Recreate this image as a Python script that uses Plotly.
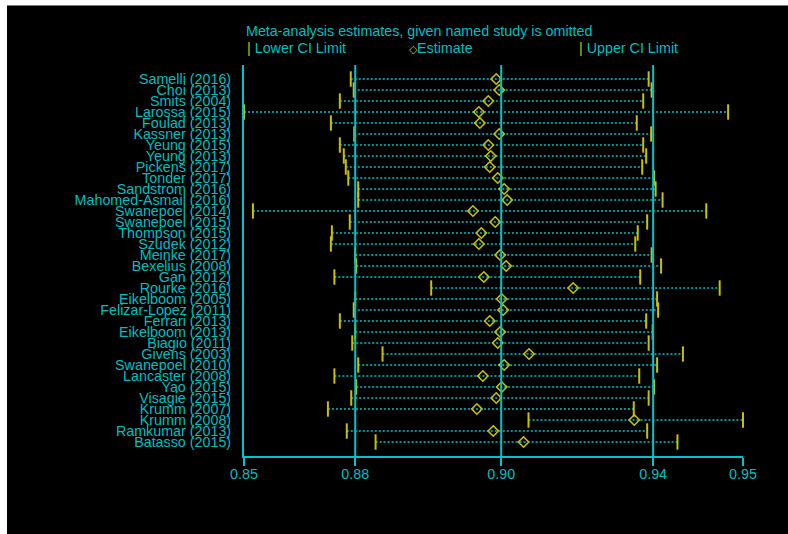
import plotly.graph_objects as go

# Leave-one-out meta-analysis: pooled estimate and CI when each study is omitted
studies = [
    "Samelli (2016)", "Choi (2013)", "Smits (2004)", "Larossa (2015)", "Foulad (2013)",
    "Kassner (2013)", "Yeung (2015)", "Yeung (2013)", "Pickens (2017)", "Tonder (2017)",
    "Sandstrom (2016)", "Mahomed-Asmail (2016)", "Swanepoel (2014)", "Swanepoel (2015)",
    "Thompson (2015)", "Szudek (2012)", "Meinke (2017)", "Bexelius (2008)", "Gan (2012)",
    "Rourke (2016)", "Eikelboom (2005)", "Felizar-Lopez (2011)", "Ferrari (2013)",
    "Eikelboom (2013)", "Biagio (2011)", "Givens (2003)", "Swanepoel (2010)",
    "Lancaster (2008)", "Yao (2015)", "Visagie (2015)", "Krumm (2007)", "Krumm (2008)",
    "Ramkumar (2013)", "Batasso (2015)",
]
lower_ci = [
    0.8742, 0.8748, 0.8720, 0.8527, 0.8702, 0.8749, 0.8720, 0.8728, 0.8732, 0.8737,
    0.8757, 0.8757, 0.8545, 0.8740, 0.8704, 0.8702, 0.8751, 0.8753, 0.8709, 0.8904,
    0.8751, 0.8748, 0.8720, 0.8751, 0.8745, 0.8806, 0.8757, 0.8709, 0.8753, 0.8743,
    0.8696, 0.9100, 0.8734, 0.8792,
]
estimate = [
    0.9035, 0.9041, 0.9019, 0.9000, 0.9002, 0.9041, 0.9019, 0.9024, 0.9022, 0.9038,
    0.9051, 0.9057, 0.8988, 0.9033, 0.9005, 0.9000, 0.9043, 0.9055, 0.9010, 0.9190,
    0.9046, 0.9049, 0.9022, 0.9043, 0.9038, 0.9101, 0.9051, 0.9008, 0.9046, 0.9035,
    0.8996, 0.9313, 0.9029, 0.9090,
]
upper_ci = [
    0.9342, 0.9348, 0.9331, 0.9502, 0.9318, 0.9347, 0.9331, 0.9337, 0.9329, 0.9353,
    0.9356, 0.9370, 0.9458, 0.9339, 0.9320, 0.9315, 0.9348, 0.9367, 0.9325, 0.9485,
    0.9359, 0.9361, 0.9337, 0.9350, 0.9342, 0.9411, 0.9359, 0.9323, 0.9353, 0.9342,
    0.9312, 0.9532, 0.9339, 0.9400,
]
# Full-sample pooled result
overall_lower, overall_est, overall_upper = 0.8751, 0.9045, 0.9351

CYAN = "#00C4C8"
CYAN_TXT = "#00BEC2"
YELLOW = "#C8C000"
FONT = "Liberation Sans, Arial, sans-serif"
FS = 14.3

W, H = 788, 534
L, R, T, B = 244, 45, 65, 78
plot_w, plot_h = W - L - R, H - T - B


def paper_x(px):
    return (px - L) / plot_w


def paper_y(py):
    return (H - B - py) / plot_h


n = len(studies)
rows = list(range(n))
x_min, x_max = min(lower_ci), max(upper_ci)

# dotted connectors from lower to upper limit
seg_x, seg_y = [], []
for i in rows:
    seg_x += [lower_ci[i], upper_ci[i], None]
    seg_y += [i, i, None]

fig = go.Figure()
fig.add_trace(go.Scatter(
    x=seg_x, y=seg_y, mode="lines",
    line=dict(color=CYAN, width=1.3, dash="2px,2px"),
    hoverinfo="skip", showlegend=False,
))
fig.add_trace(go.Scatter(
    x=lower_ci, y=rows, mode="markers", name="Lower CI Limit",
    marker=dict(symbol="line-ns", size=11, line=dict(color=YELLOW, width=2)),
    cliponaxis=False, showlegend=False,
))
fig.add_trace(go.Scatter(
    x=upper_ci, y=rows, mode="markers", name="Upper CI Limit",
    marker=dict(symbol="line-ns", size=11, line=dict(color=YELLOW, width=2)),
    cliponaxis=False, showlegend=False,
))
fig.add_trace(go.Scatter(
    x=estimate, y=rows, mode="markers", name="Estimate",
    marker=dict(symbol="diamond-open", size=8, color=YELLOW, line=dict(color=YELLOW, width=1.6)),
    cliponaxis=False, showlegend=False,
))

shapes = [
    # dark canvas behind the chart
    dict(type="rect", xref="paper", yref="paper", layer="below",
         x0=paper_x(7), x1=paper_x(W + 2), y0=paper_y(5), y1=paper_y(H + 2),
         fillcolor="black", line=dict(width=0)),
    dict(type="line", xref="paper", yref="paper", layer="below",
         x0=paper_x(7), x1=paper_x(W + 2), y0=paper_y(5.5), y1=paper_y(5.5),
         line=dict(color="#777777", width=1)),
]
for v in (overall_lower, overall_est, overall_upper):
    shapes.append(dict(type="line", xref="x", yref="paper", x0=v, x1=v, y0=0, y1=1,
                       line=dict(color=CYAN, width=2)))

legend_y = paper_y(48)
legend_font = dict(family=FONT, size=FS, color=CYAN_TXT)
annotations = [
    dict(xref="paper", yref="paper", x=paper_x(245), y=legend_y, xanchor="left", yanchor="middle",
         showarrow=False, font=legend_font,
         text=f'<span style="color:{YELLOW}">|</span> Lower CI Limit'),
    dict(xref="paper", yref="paper", x=paper_x(407), y=legend_y, xanchor="left", yanchor="middle",
         showarrow=False, font=legend_font,
         text=f'<span style="color:{YELLOW};font-size:11px">◇</span>Estimate'),
    dict(xref="paper", yref="paper", x=paper_x(577), y=legend_y, xanchor="left", yanchor="middle",
         showarrow=False, font=legend_font,
         text=f'<span style="color:{YELLOW}">|</span> Upper CI Limit'),
]

row_top = -(79 - T) / 11.0
row_bottom = (H - B - 79) / 11.0

fig.update_layout(
    width=W, height=H,
    margin=dict(l=L, r=R, t=T, b=B, pad=0),
    paper_bgcolor="white", plot_bgcolor="black",
    title=dict(text="Meta-analysis estimates, given named study is omitted",
               x=246 / W, y=1 - 31 / H, xanchor="left", yanchor="middle", xref="container",
               font=dict(family=FONT, size=FS, color=CYAN_TXT)),
    shapes=shapes, annotations=annotations,
    xaxis=dict(
        range=[x_min, x_max],
        tickvals=[x_min, overall_lower, overall_est, overall_upper, x_max],
        tickformat=".2f", ticks="outside", ticklen=8, tickwidth=2, tickcolor=CYAN,
        ticklabelstandoff=-4,
        showline=True, linecolor=CYAN, linewidth=2, showgrid=False, zeroline=False,
        tickfont=dict(family=FONT, size=FS, color=CYAN_TXT),
    ),
    yaxis=dict(
        range=[row_bottom, row_top],
        tickvals=rows, ticktext=studies, ticks="", ticklabelstandoff=8,
        showline=True, linecolor=CYAN, linewidth=2, showgrid=False, zeroline=False,
        tickfont=dict(family=FONT, size=FS, color=CYAN_TXT),
    ),
    hovermode=False,
)

fig.write_html("out.html")
